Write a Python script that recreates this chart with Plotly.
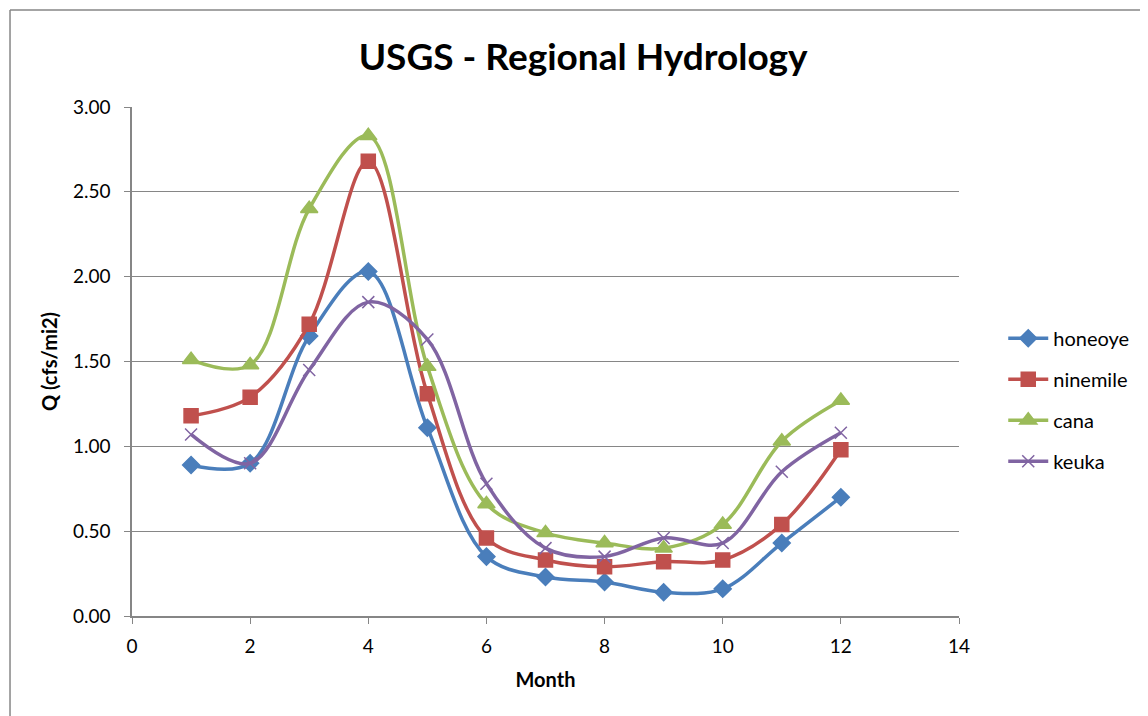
import plotly.graph_objects as go

months = [1, 2, 3, 4, 5, 6, 7, 8, 9, 10, 11, 12]
honeoye = [0.89, 0.90, 1.65, 2.03, 1.11, 0.35, 0.23, 0.20, 0.14, 0.16, 0.43, 0.70]
ninemile = [1.18, 1.29, 1.72, 2.68, 1.31, 0.46, 0.33, 0.29, 0.32, 0.33, 0.54, 0.98]
cana = [1.51, 1.48, 2.40, 2.83, 1.47, 0.66, 0.49, 0.43, 0.40, 0.54, 1.03, 1.27]
keuka = [1.07, 0.90, 1.45, 1.85, 1.63, 0.78, 0.40, 0.35, 0.46, 0.43, 0.85, 1.08]

series = [
    ("honeoye", honeoye, "#4A7EBB", "diamond", 13),
    ("ninemile", ninemile, "#C0504D", "square", 14),
    ("cana", cana, "#9BBB59", "triangle-up", 15),
    ("keuka", keuka, "#8064A2", "x-thin", 12),
]

fig = go.Figure()
for name, vals, color, sym, size in series:
    fig.add_trace(go.Scatter(
        x=months, y=vals, name=name, legendgroup=name, mode="lines+markers",
        line=dict(color=color, width=3.5, shape="spline", smoothing=1.0),
        marker=dict(symbol=sym, size=size, color=color,
                    line=dict(color=color, width=1.5)),
    ))

FAM = "Lato, 'Open Sans', sans-serif"
tick_font = dict(family=FAM, size=19, color="#000000")
title_font = dict(family=FAM, size=20, color="#000000")

fig.update_layout(
    width=1148, height=716,
    margin=dict(l=124, r=197, t=99, b=108, autoexpand=False),
    paper_bgcolor="white", plot_bgcolor="white",
    title=dict(text="<b>USGS - Regional Hydrology</b>", x=0.501, xanchor="center",
               y=0.9316, yanchor="middle",
               font=dict(family=FAM, size=37, color="#000000")),
    font=tick_font,
    showlegend=True,
    legend=dict(x=1.0535, xanchor="left", y=0.425, yanchor="middle",
                font=dict(family=FAM, size=20, color="#000000"),
                tracegroupgap=12, itemwidth=40, bgcolor="rgba(0,0,0,0)"),
    xaxis=dict(range=[0, 14], tickmode="array", tickvals=[0, 2, 4, 6, 8, 10, 12, 14],
               showgrid=False, showline=True, linecolor="#868686", linewidth=1.5,
               ticks="outside", ticklen=6, tickcolor="#868686", zeroline=False,
               automargin=False, ticklabelstandoff=6,
               title=dict(text="<b>Month</b>", font=title_font, standoff=17),
               tickfont=tick_font),
    yaxis=dict(range=[0, 3.0], tickmode="array", tickvals=[0, 0.5, 1.0, 1.5, 2.0, 2.5, 3.0],
               tickformat=".2f", showgrid=True, gridcolor="#868686", gridwidth=1.2,
               showline=True, linecolor="#868686", linewidth=1.5,
               ticks="outside", ticklen=6, tickcolor="#868686", zeroline=False,
               automargin=False, ticklabelstandoff=10,
               title=dict(text="<b>Q (cfs/mi2)</b>", font=title_font, standoff=10),
               tickfont=tick_font),
)

# chart-area border (outer frame)
fig.add_shape(type="line", xref="paper", yref="paper", x0=-0.1475, x1=1.3, y0=1.1906, y1=1.1906,
              line=dict(color="#868686", width=1.5))
fig.add_shape(type="line", xref="paper", yref="paper", x0=-0.1475, x1=-0.1475, y0=1.1906, y1=-0.3,
              line=dict(color="#868686", width=1.5))

fig.write_html("out.html")
